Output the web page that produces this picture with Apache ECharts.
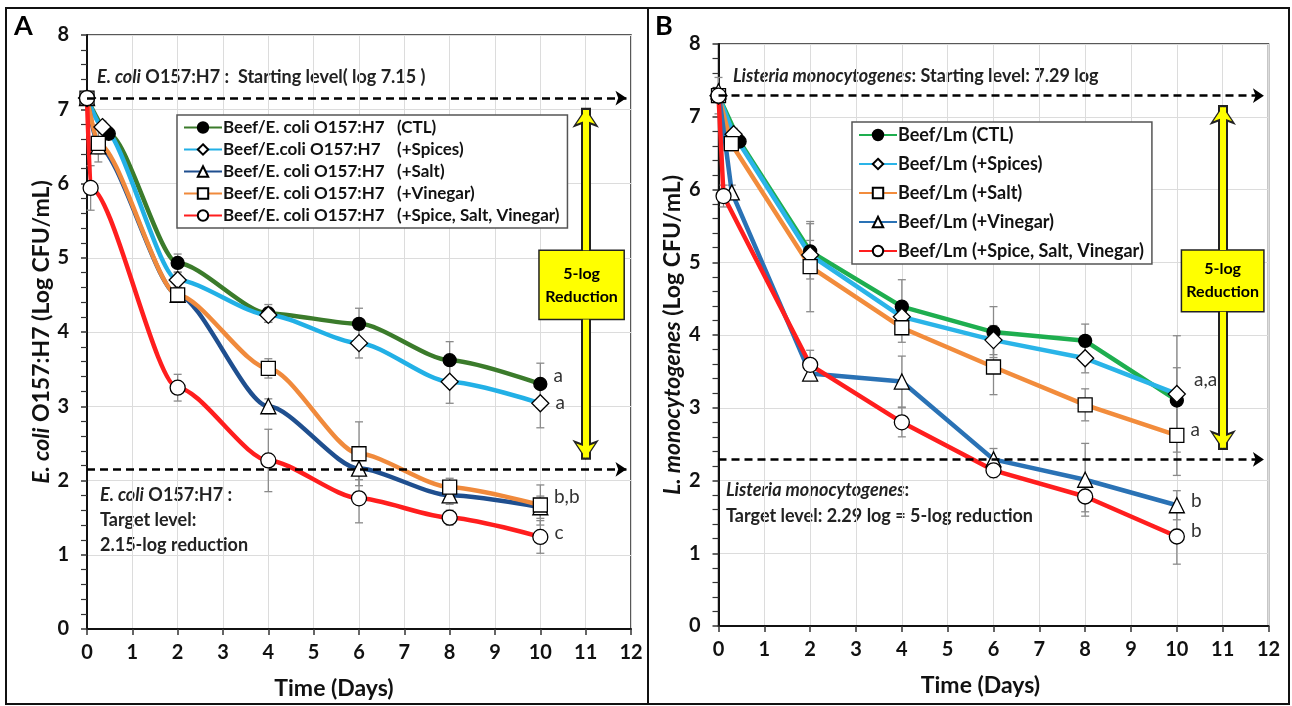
<!DOCTYPE html>
<html>
<head>
<meta charset="utf-8">
<script src="https://cdn.jsdelivr.net/npm/echarts@6/dist/echarts.min.js"></script>
<style>
  html, body { margin: 0; padding: 0; background: #fff; }
  #main { width: 1292px; height: 706px; }
</style>
</head>
<body>
<div id="main"></div>
<script>
// Panel A: E. coli O157:H7
const aNames = [
  'Beef/E. coli O157:H7  (CTL)',
  'Beef/E.coli O157:H7  (+Spices)',
  'Beef/E. coli O157:H7  (+Salt)',
  'Beef/E. coli O157:H7  (+Vinegar)',
  'Beef/E. coli O157:H7  (+Spice, Salt, Vinegar)',
]
const aCtlX = [0, 0.48, 2, 4, 6, 8, 10]
const aCtlY = [7.15, 6.67, 4.93, 4.25, 4.11, 3.62, 3.3]
const aCtlErr = [0, 0.08, 0.12, 0.12, 0.21, 0.25, 0.28]
const aSpiceX = [0, 0.34, 2, 4, 6, 8, 10]
const aSpiceY = [7.15, 6.76, 4.7, 4.23, 3.85, 3.33, 3.04]
const aSpiceErr = [0, 0.08, 0.1, 0.1, 0.2, 0.29, 0.33]
const aSaltX = [0, 0.25, 2, 4, 6, 8, 10]
const aSaltY = [7.15, 6.5, 4.5, 3.0, 2.16, 1.8, 1.64]
const aSaltErr = [0, 0.1, 0.1, 0.1, 0.15, 0.12, 0.15]
const aVinX = [0, 0.25, 2, 4, 6, 8, 10]
const aVinY = [7.15, 6.54, 4.5, 3.51, 2.36, 1.91, 1.67]
const aVinErr = [0, 0.25, 0.1, 0.13, 0.43, 0.12, 0.27]
const aMixX = [0, 0.08, 2, 4, 6, 8, 10]
const aMixY = [7.15, 5.94, 3.25, 2.27, 1.76, 1.5, 1.24]
const aMixErr = [0, 0.3, 0.18, 0.42, 0.33, 0.1, 0.22]
const aLetters = ['a', 'a', '', 'b,b', 'c']
const aStart = 7.15
const aTarget = 2.15

// Panel B: L. monocytogenes
const bNames = [
  'Beef/Lm (CTL)',
  'Beef/Lm (+Spices)',
  'Beef/Lm (+Salt)',
  'Beef/Lm (+Vinegar)',
  'Beef/Lm (+Spice, Salt, Vinegar)',
]
const bCtlX = [0, 0.46, 2, 4, 6, 8, 10]
const bCtlY = [7.29, 6.66, 5.15, 4.39, 4.04, 3.92, 3.1]
const bCtlErr = [0.25, 0.08, 0.38, 0.37, 0.35, 0.23, 0.45]
const bSpiceX = [0, 0.33, 2, 4, 6, 8, 10]
const bSpiceY = [7.29, 6.76, 5.1, 4.25, 3.93, 3.68, 3.19]
const bSpiceErr = [0, 0.08, 0.2, 0.2, 0.2, 0.2, 0.8]
const bSaltX = [0, 0.28, 2, 4, 6, 8, 10]
const bSaltY = [7.29, 6.63, 4.94, 4.1, 3.56, 3.04, 2.62]
const bSaltErr = [0, 0.1, 0.62, 0.2, 0.38, 0.22, 0.55]
const bVinX = [0, 0.29, 2, 4, 6, 8, 10]
const bVinY = [7.35, 5.96, 3.47, 3.36, 2.29, 2.01, 1.66]
const bVinErr = [0, 0.1, 0.08, 0.35, 0.15, 0.5, 0.2]
const bMixX = [0, 0.11, 2, 4, 6, 8, 10]
const bMixY = [7.29, 5.91, 3.59, 2.8, 2.14, 1.78, 1.23]
const bMixErr = [0, 0.15, 0.2, 0.2, 0.1, 0.21, 0.38]
const bLetters = ['', 'a,a', 'a', 'b', 'b']
const bStart = 7.29
const bTarget = 2.29

const xTicks = [0, 12, 1]
const yTicks = [0, 8, 1]

const FONT = 'Lato, "Open Sans", sans-serif'

const chart = echarts.init(document.getElementById('main'))

function lineSeries(gi, name, xs, ys, color, symbol, size, filled, letter, letterOffset, smooth) {
  const data = xs.map((x, i) => [x, ys[i]])
  const last = data.length - 1
  data[last] = {
    value: data[last],
    label: {
      show: !!letter,
      formatter: letter,
      position: 'right',
      distance: 6,
      offset: letterOffset,
      fontSize: 19,
      fontFamily: FONT,
      color: '#333',
    },
  }
  return {
    type: 'line',
    name,
    xAxisIndex: gi,
    yAxisIndex: gi,
    data,
    smooth,
    smoothMonotone: 'x',
    color,
    symbol,
    symbolSize: size,
    showAllSymbol: true,
    lineStyle: { color, width: 4.5 },
    itemStyle: {
      color: filled ? '#000' : '#fff',
      borderColor: '#000',
      borderWidth: 1.3,
    },
    emphasis: { disabled: true },
    z: 3,
    animation: false,
  }
}

function errorData(groups) {
  const out = []
  groups.forEach(([xs, ys, es]) => {
    xs.forEach((x, i) => {
      if (es[i] > 0) out.push([x, ys[i] - es[i], ys[i] + es[i]])
    })
  })
  return out
}

function errorSeries(gi, data) {
  return {
    type: 'custom',
    xAxisIndex: gi,
    yAxisIndex: gi,
    data,
    encode: { x: 0, y: [1, 2] },
    silent: true,
    z: 2,
    animation: false,
    renderItem(params, api) {
      const x = api.value(0)
      const top = api.coord([x, api.value(2)])
      const bot = api.coord([x, api.value(1)])
      const w = 4
      const style = { stroke: '#8a8a8a', lineWidth: 1.3 }
      return {
        type: 'group',
        children: [
          { type: 'line', shape: { x1: top[0], y1: top[1], x2: bot[0], y2: bot[1] }, style },
          { type: 'line', shape: { x1: top[0] - w, y1: top[1], x2: top[0] + w, y2: top[1] }, style },
          { type: 'line', shape: { x1: bot[0] - w, y1: bot[1], x2: bot[0] + w, y2: bot[1] }, style },
        ],
      }
    },
  }
}

// dashed start / target lines, and the yellow 5-log arrow with its box
function refSeries(gi, start, target, box) {
  const arrowX = 11
  const seg = (size, width, color, inset) => [
    [
      { coord: [arrowX, box[1]], symbol: 'none', lineStyle: { color, width, type: 'solid' } },
      { coord: [arrowX, start - inset], symbol: 'arrow', symbolSize: size },
    ],
    [
      { coord: [arrowX, box[3]], symbol: 'none', lineStyle: { color, width, type: 'solid' } },
      { coord: [arrowX, target + inset], symbol: 'arrow', symbolSize: size },
    ],
  ]
  return [
    {
      type: 'line',
      xAxisIndex: gi,
      yAxisIndex: gi,
      data: [],
      z: 4,
      animation: false,
      markLine: {
        silent: true,
        animation: false,
        symbol: ['none', 'arrow'],
        symbolSize: 11,
        label: { show: false },
        lineStyle: { color: '#000', width: 2.5, type: [8, 5] },
        data: [
          [{ coord: [0, start] }, { coord: [11.9, start] }],
          [{ coord: [0, target] }, { coord: [11.9, target] }],
        ],
      },
      markArea: {
        silent: true,
        animation: false,
        itemStyle: { color: '#ffff00', borderColor: '#222', borderWidth: 1.5 },
        label: {
          show: true,
          position: 'inside',
          formatter: '5-log\nReduction',
          fontFamily: FONT,
          fontWeight: 'bold',
          fontSize: 16,
          lineHeight: 23,
          color: '#000',
        },
        data: [[{ coord: [box[0], box[1]] }, { coord: [box[2], box[3]] }]],
      },
    },
    {
      type: 'line',
      xAxisIndex: gi,
      yAxisIndex: gi,
      data: [],
      z: 5,
      animation: false,
      markLine: {
        silent: true,
        animation: false,
        label: { show: false },
        data: seg(20, 10, '#222', 0.13),
      },
    },
    {
      type: 'line',
      xAxisIndex: gi,
      yAxisIndex: gi,
      data: [],
      z: 6,
      animation: false,
      markLine: {
        silent: true,
        animation: false,
        label: { show: false },
        data: seg(14, 6, '#ffff00', 0.16),
      },
    },
  ]
}

function xAxis(gi, padRight) {
  return {
    type: 'value',
    gridIndex: gi,
    min: xTicks[0],
    max: xTicks[1],
    interval: xTicks[2],
    name: 'Time (Days)',
    nameLocation: 'middle',
    nameGap: 48,
    nameTextStyle: {
      fontFamily: FONT, fontSize: 23, fontWeight: 'bold', color: '#111',
      padding: [0, padRight, 0, 0],
    },
    axisLine: { show: true, lineStyle: { color: '#111', width: 2 } },
    axisTick: { show: true, length: 6, lineStyle: { color: '#333', width: 1.5 } },
    axisLabel: { margin: 14, fontFamily: FONT, fontSize: 20, fontWeight: 'bold', color: '#111' },
    splitLine: { show: true, lineStyle: { color: '#dcdcdc', width: 1 } },
  }
}

function yAxis(gi, name) {
  return {
    type: 'value',
    gridIndex: gi,
    min: yTicks[0],
    max: yTicks[1],
    interval: yTicks[2],
    name,
    nameLocation: 'middle',
    nameRotate: 90,
    nameGap: 34,
    nameTextStyle: {
      fontFamily: FONT, fontSize: 23, fontWeight: 'bold', color: '#111',
      rich: { i: { fontFamily: FONT, fontSize: 23, fontWeight: 'bold', fontStyle: 'italic', color: '#111' } },
    },
    axisLine: { show: true, lineStyle: { color: '#111', width: 2 } },
    axisTick: { show: true, length: 6, lineStyle: { color: '#333', width: 1.5 } },
    minorTick: { show: true, splitNumber: 5, length: 6, lineStyle: { color: '#333', width: 1.2 } },
    axisLabel: { margin: 18, fontFamily: FONT, fontSize: 20, fontWeight: 'bold', color: '#111' },
    splitLine: { show: true, lineStyle: { color: '#dcdcdc', width: 1 } },
  }
}

function legend(gi, names, left, top, fontSize, gap, colWidth) {
  const opt = {
    orient: 'vertical',
    left,
    top,
    data: names,
    selectedMode: false,
    backgroundColor: '#fff',
    borderColor: '#555',
    borderWidth: 1.5,
    borderRadius: 0,
    padding: [4, 8, 4, 6],
    itemGap: gap,
    itemWidth: 38,
    itemHeight: 13,
    textStyle: { fontFamily: FONT, fontSize, fontWeight: 'bold', color: '#111', padding: [0, 0, 0, -4] },
  }
  if (colWidth) {
    opt.formatter = (name) => {
      const i = name.indexOf('  (')
      return '{a|' + name.slice(0, i) + '}' + name.slice(i + 2)
    }
    opt.textStyle.rich = { a: { width: colWidth } }
  }
  return opt
}

const aColors = ['#3b7b2b', '#22b0e6', '#1f4f8f', '#f08a3c', '#ff1e1e']
const bColors = ['#1eae4f', '#2ab4e8', '#f28c3c', '#2a72b5', '#ff1e1e']

const aSeries = [
  lineSeries(0, aNames[0], aCtlX, aCtlY, aColors[0], 'circle', 13, true, aLetters[0], [0, -8], 0.25),
  lineSeries(0, aNames[1], aSpiceX, aSpiceY, aColors[1], 'diamond', 17, false, aLetters[1], [0, 0], 0.25),
  lineSeries(0, aNames[2], aSaltX, aSaltY, aColors[2], 'triangle', 15, false, aLetters[2], [0, 0], 0.25),
  lineSeries(0, aNames[3], aVinX, aVinY, aColors[3], 'rect', 14, false, aLetters[3], [0, -8], 0.25),
  lineSeries(0, aNames[4], aMixX, aMixY, aColors[4], 'circle', 15, false, aLetters[4], [0, -4], 0.25),
]
const bSeries = [
  lineSeries(1, bNames[0], bCtlX, bCtlY, bColors[0], 'circle', 13, true, bLetters[0], [0, 0], false),
  lineSeries(1, bNames[1], bSpiceX, bSpiceY, bColors[1], 'diamond', 17, false, bLetters[1], [2, -14], false),
  lineSeries(1, bNames[2], bSaltX, bSaltY, bColors[2], 'rect', 14, false, bLetters[2], [0, -6], false),
  lineSeries(1, bNames[3], bVinX, bVinY, bColors[3], 'triangle', 15, false, bLetters[3], [0, -4], false),
  lineSeries(1, bNames[4], bMixX, bMixY, bColors[4], 'circle', 15, false, bLetters[4], [0, -6], false),
]

const aErr = errorData([
  [aCtlX, aCtlY, aCtlErr], [aSpiceX, aSpiceY, aSpiceErr], [aSaltX, aSaltY, aSaltErr],
  [aVinX, aVinY, aVinErr], [aMixX, aMixY, aMixErr],
])
const bErr = errorData([
  [bCtlX, bCtlY, bCtlErr], [bSpiceX, bSpiceY, bSpiceErr], [bSaltX, bSaltY, bSaltErr],
  [bVinX, bVinY, bVinErr], [bMixX, bMixY, bMixErr],
])

const textStyle = (text, x, y, lineHeight) => ({
  type: 'text',
  x,
  y,
  silent: true,
  style: {
    text,
    fontFamily: FONT,
    fontSize: 18,
    fontWeight: 'bold',
    fill: '#222',
    lineHeight,
    rich: {
      i: { fontFamily: FONT, fontSize: 18, fontWeight: 'bold', fontStyle: 'italic', fill: '#222', lineHeight },
    },
  },
})

chart.setOption({
  animation: false,
  backgroundColor: '#fff',
  grid: [
    { left: 87, width: 544, top: 35, bottom: 77, show: true, borderColor: '#222', borderWidth: 1.5 },
    { left: 718.5, width: 550, top: 44, bottom: 80, show: true, borderColor: '#222', borderWidth: 1.5 },
  ],
  xAxis: [xAxis(0, 50), xAxis(1, 26)],
  yAxis: [
    yAxis(0, '{i|E. coli} O157:H7 (Log CFU/mL)'),
    yAxis(1, '{i|L. monocytogenes} (Log CFU/mL)'),
  ],
  legend: [
    legend(0, aNames, 177, 115, 17, 5, 174),
    legend(1, bNames, 852, 122, 18, 11, 0),
  ],
  graphic: [
    { type: 'rect', silent: true, shape: { x: 6, y: 8, width: 1283, height: 696 }, style: { fill: 'none', stroke: '#111', lineWidth: 2 } },
    { type: 'line', silent: true, shape: { x1: 648, y1: 8, x2: 648, y2: 704 }, style: { stroke: '#111', lineWidth: 2 } },
    { type: 'text', x: 14, y: 13, silent: true, style: { text: 'A', fontFamily: FONT, fontSize: 27, fontWeight: 'bold', fill: '#000' } },
    { type: 'text', x: 655, y: 13, silent: true, style: { text: 'B', fontFamily: FONT, fontSize: 27, fontWeight: 'bold', fill: '#000' } },
    textStyle('{i|E. coli} O157:H7 :  Starting level( log 7.15 )', 97, 66, 22),
    textStyle('{i|E. coli} O157:H7 :\nTarget level:\n2.15-log reduction', 100, 483, 25),
    textStyle('{i|Listeria monocytogenes}: Starting level: 7.29 log', 733, 65, 22),
    textStyle('{i|Listeria monocytogenes}:\nTarget level: 2.29 log = 5-log reduction', 726, 477, 26),
  ],
  series: [
    errorSeries(0, aErr),
    ...aSeries,
    ...refSeries(0, aStart, aTarget, [9.97, 5.1, 11.85, 4.17]),
    errorSeries(1, bErr),
    ...bSeries,
    ...refSeries(1, bStart, bTarget, [10.1, 5.17, 11.9, 4.32]),
  ],
})
</script>
</body>
</html>
